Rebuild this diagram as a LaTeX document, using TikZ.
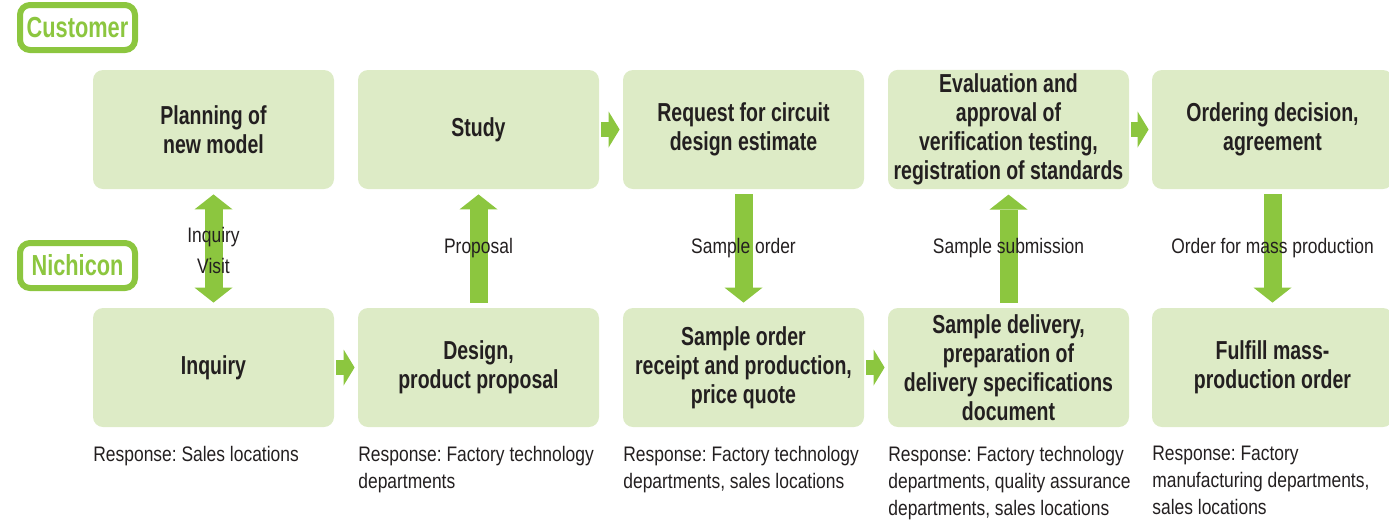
\documentclass[tikz,border=0pt]{standalone}
\usepackage{fontspec}
\setmainfont{Liberation Sans}[FakeStretch=0.83]
\newfontfamily\condbold{Liberation Sans}[FakeStretch=0.75]
\usetikzlibrary{arrows.meta}
\frenchspacing
\definecolor{leaf}{HTML}{8CC63F}
\definecolor{pale}{HTML}{DDEBC6}
\definecolor{ink}{HTML}{231F20}
\tikzset{
  vtip/.tip={Triangle[width=19pt,length=7.5pt,line width=0pt]},
  htip/.tip={Triangle[width=18pt,length=5.5pt,line width=0pt]},
  stage/.style={fill=pale, rounded corners=5pt, minimum width=120.5pt, minimum height=59.5pt,
    align=center, inner sep=2pt, text=ink, font=\condbold\bfseries\fontsize{13}{14.5}\selectfont},
  side/.style={draw=leaf, line width=3pt, fill=white, rounded corners=5pt, minimum width=57.5pt,
    minimum height=22.5pt, inner sep=0pt, text=leaf, font=\condbold\bfseries\fontsize{14.5}{15}\selectfont},
  vflow/.style={draw=leaf, line width=9pt, -vtip, shorten <=2.5pt, shorten >=2.5pt},
  vboth/.style={vflow, vtip-vtip},
  hflow/.style={draw=leaf, line width=7.5pt, -htip, shorten <=1pt, shorten >=1.5pt},
  tag/.style={text=ink, font=\fontsize{10.5}{15.5}\selectfont, align=center, inner sep=0pt},
  resp/.style={anchor=north west, text=ink, font=\fontsize{10.5}{13.5}\selectfont, align=left, inner sep=0pt}
}
\begin{document}
\begin{tikzpicture}[x=0.5pt, y=-0.5pt]
    \useasboundingbox (0,0) rectangle (1389,521);
    % side labels
    \node[side] (cust) at (77.5,27.5) {Customer};
    \node[side] (nich) at (77.5,265.5) {Nichicon};
    % customer row
    \node[stage] (plan) at (213.5,129.5) {Planning of\\new model};
    \node[stage] (study) at (478.5,129.5) {Study};
    \node[stage] (req) at (743.5,129.5) {Request for circuit\\design estimate};
    \node[stage] (eval) at (1008.5,129.5) {Evaluation and\\approval of\\verification testing,\\registration of standards};
    \node[stage] (order) at (1272.5,129.5) {Ordering decision,\\agreement};
    % nichicon row
    \node[stage] (inq) at (213.5,367.5) {Inquiry};
    \node[stage] (design) at (478.5,367.5) {Design,\\product proposal};
    \node[stage] (sample) at (743.5,367.5) {Sample order\\receipt and production,\\price quote};
    \node[stage] (deliv) at (1008.5,367.5) {Sample delivery,\\preparation of\\delivery specifications\\document};
    \node[stage] (fulfill) at (1272.5,367.5) {Fulfill mass-\\production order};
    % flow between the rows
    \draw[vboth] (plan) -- (inq);
    \draw[vflow] (design) -- (study);
    \draw[vflow] (req) -- (sample);
    \draw[vflow] (deliv) -- (eval);
    \draw[vflow] (order) -- (fulfill);
    % flow along the rows
    \draw[hflow] (study) -- (req);
    \draw[hflow] (eval) -- (order);
    \draw[hflow] (inq) -- (design);
    \draw[hflow] (sample) -- (deliv);
    % arrow labels
    \node[tag] (lvisit) at (213.5,250.5) {Inquiry\\Visit};
    \node[tag] (lprop) at (478.5,248) {Proposal};
    \node[tag] (lsorder) at (743.5,248) {Sample order};
    \node[tag] (lsubm) at (1008.5,248) {Sample submission};
    \node[tag] (lmass) at (1272.5,248) {Order for mass production};
    % who responds
    \node[resp] (r1) at (93,446) {Response: Sales locations};
    \node[resp] (r2) at (358,446) {Response: Factory technology\\departments};
    \node[resp] (r3) at (623,446) {Response: Factory technology\\departments, sales locations};
    \node[resp] (r4) at (888,446) {Response: Factory technology\\departments, quality assurance\\departments, sales locations};
    \node[resp] (r5) at (1152,446) {Response: Factory\\manufacturing departments,\\sales locations};
\end{tikzpicture}
\end{document}
